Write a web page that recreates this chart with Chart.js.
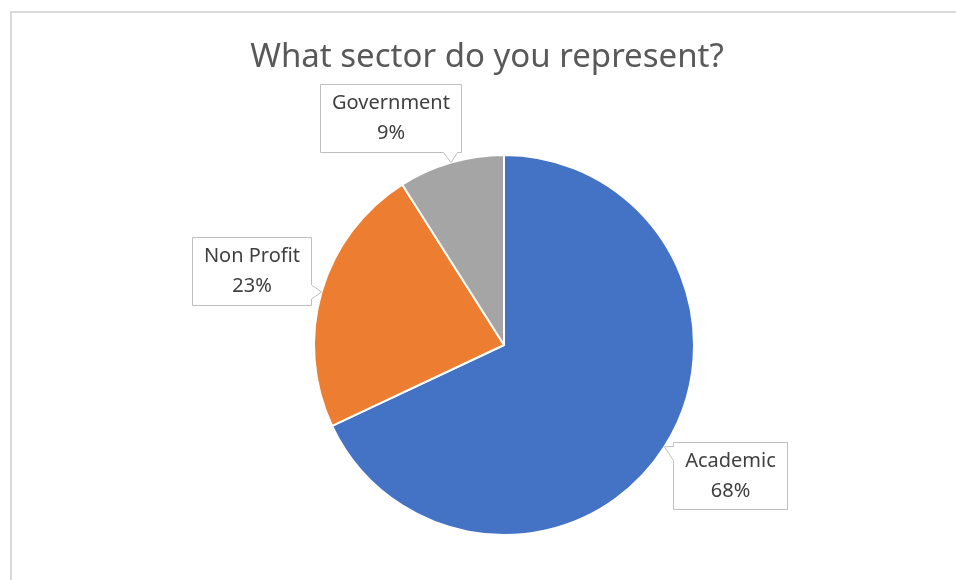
<!DOCTYPE html>
<html>
<head>
<meta charset="utf-8">
<script src="https://cdn.jsdelivr.net/npm/chart.js@4.4.1/dist/chart.umd.min.js"></script>
<style>
  html, body { margin: 0; padding: 0; background: #fff; overflow: hidden; }
  #frame {
    position: absolute; left: 10px; top: 11px;
    width: 960px; height: 580px;
    border-left: 2px solid #d9d9d9; border-top: 2px solid #d9d9d9;
  }
  #wrap { position: absolute; left: -2px; top: -2px; width: 954px; height: 569px; }
</style>
</head>
<body>
<div id="frame"><div id="wrap"><canvas id="pieChart"></canvas></div></div>
<script>
const chartTitle = 'What sector do you represent?';
const sectors = ['Academic', 'Non Profit', 'Government'];
const shares = [68, 23, 9];
const sliceColors = ['#4472C4', '#ED7D31', '#A5A5A5'];

// where each callout box sits, relative to the slice's outer edge point
const calloutOffsets = [[66, 29], [-70, -21], [-60, -45]];
const calloutSizes = [[114, 67], [119, 68], [141, 68]];

const textFont = '"Noto Sans", "Open Sans", sans-serif';

const titlePlugin = {
    id: 'titleText',
    afterDraw(chart) {
        const ctx = chart.ctx;
        ctx.save();
        ctx.font = '33px ' + textFont;
        ctx.fillStyle = '#595959';
        ctx.textAlign = 'center';
        ctx.textBaseline = 'middle';
        ctx.fillText(chartTitle, chart.width / 2, 47);
        ctx.restore();
    }
};

const calloutPlugin = {
    id: 'callouts',
    afterDatasetsDraw(chart) {
        const ctx = chart.ctx;
        const meta = chart.getDatasetMeta(0);
        const total = shares.reduce((a, b) => a + b, 0);
        meta.data.forEach((arc, i) => {
            const p = arc.getProps(['x', 'y', 'startAngle', 'endAngle', 'outerRadius'], true);
            const mid = (p.startAngle + p.endAngle) / 2;
            const ax = p.x + Math.cos(mid) * p.outerRadius;
            const ay = p.y + Math.sin(mid) * p.outerRadius;
            const w = calloutSizes[i][0], h = calloutSizes[i][1];
            const cx = ax + calloutOffsets[i][0], cy = ay + calloutOffsets[i][1];
            const x0 = Math.round(cx - w / 2) + 0.5, y0 = Math.round(cy - h / 2) + 0.5;
            const x1 = x0 + w, y1 = y0 + h;
            const half = 7;
            const clamp = (v, lo, hi) => Math.max(lo + 4, Math.min(hi - 4, v));

            ctx.save();
            ctx.beginPath();
            ctx.moveTo(x0, y0);
            if (ay < y0) {
                const b = clamp(ax, x0 + half, x1 - half);
                ctx.lineTo(b - half, y0); ctx.lineTo(ax, ay); ctx.lineTo(b + half, y0);
            }
            ctx.lineTo(x1, y0);
            if (ax > x1) {
                const b = clamp(ay, y0 + half, y1 - half);
                ctx.lineTo(x1, b - half); ctx.lineTo(ax, ay); ctx.lineTo(x1, b + half);
            }
            ctx.lineTo(x1, y1);
            if (ay > y1) {
                const b = clamp(ax, x0 + half, x1 - half);
                ctx.lineTo(b + half, y1); ctx.lineTo(ax, ay); ctx.lineTo(b - half, y1);
            }
            ctx.lineTo(x0, y1);
            if (ax < x0) {
                const b = clamp(ay, y0 + half, y1 - half);
                ctx.lineTo(x0, b + half); ctx.lineTo(ax, ay); ctx.lineTo(x0, b - half);
            }
            ctx.closePath();
            ctx.fillStyle = '#ffffff';
            ctx.fill();
            ctx.strokeStyle = '#bfbfbf';
            ctx.lineWidth = 1;
            ctx.stroke();

            ctx.font = '20px ' + textFont;
            ctx.fillStyle = '#404040';
            ctx.textAlign = 'center';
            ctx.textBaseline = 'middle';
            const pct = Math.round(shares[i] / total * 100) + '%';
            ctx.fillText(chart.data.labels[i], (x0 + x1) / 2, y0 + h / 2 - 15);
            ctx.fillText(pct, (x0 + x1) / 2, y0 + h / 2 + 15);
            ctx.restore();
        });
    }
};

const ctx = document.getElementById('pieChart').getContext('2d');
const chart = new Chart(ctx, {
    type: 'pie',
    data: {
        labels: sectors,
        datasets: [{
            data: shares,
            backgroundColor: sliceColors,
            borderColor: '#ffffff',
            borderWidth: 2,
            hoverOffset: 0
        }]
    },
    options: {
        responsive: true,
        maintainAspectRatio: false,
        animation: false,
        radius: 190,
        layout: {
            padding: { left: 294, right: 260, top: 144, bottom: 45 }
        },
        plugins: {
            legend: { display: false },
            tooltip: { enabled: false },
            title: { display: false }
        }
    },
    plugins: [titlePlugin, calloutPlugin]
});
</script>
</body>
</html>
